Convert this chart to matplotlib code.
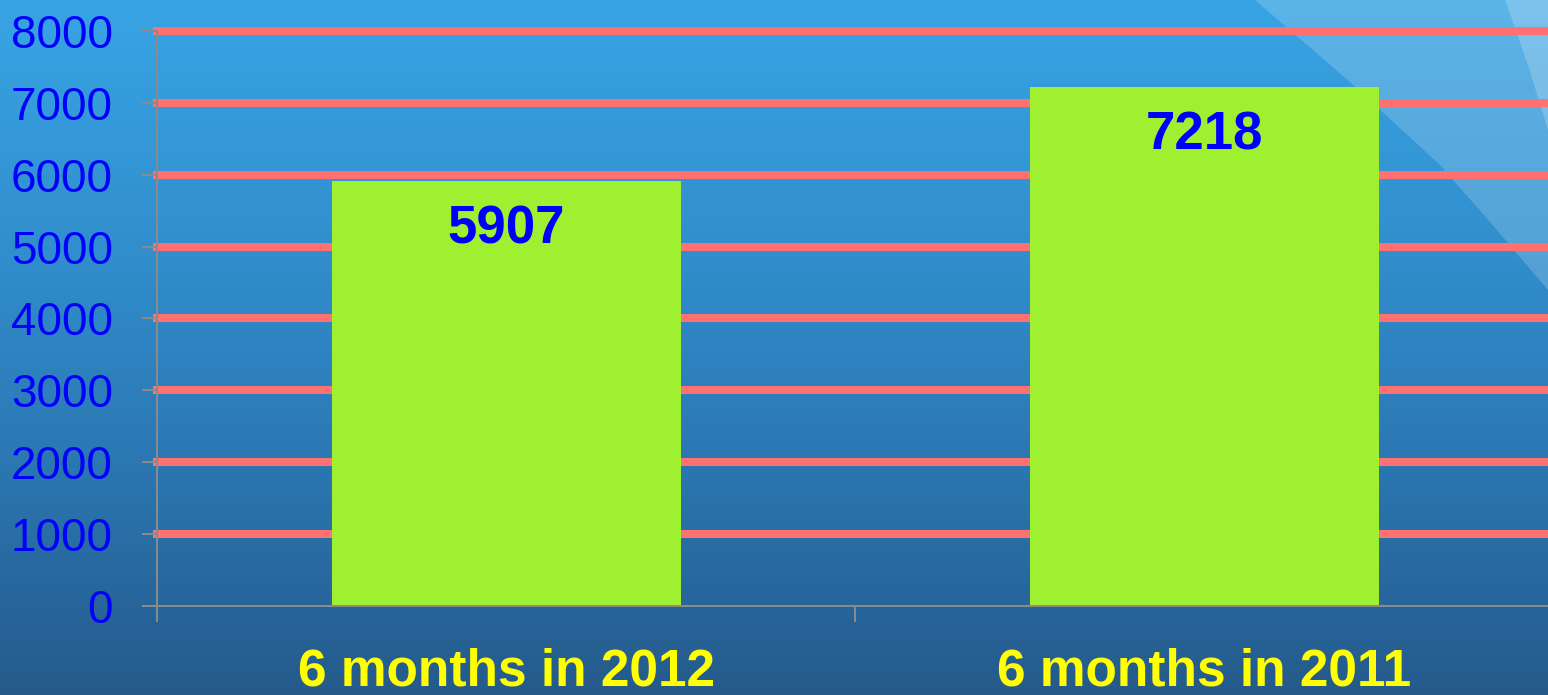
import matplotlib.pyplot as plt
import numpy as np
from matplotlib.colors import LinearSegmentedColormap
from matplotlib.patches import Polygon

categories = ["6 months in 2012", "6 months in 2011"]
values = [5907, 7218]
y_ticks = [0, 1000, 2000, 3000, 4000, 5000, 6000, 7000, 8000]

W, H = 1548, 695
PX = 72 / 100  # points per pixel at dpi 100


def main():
    fig = plt.figure(figsize=(W / 100, H / 100), dpi=100)

    # background gradient and the light swooshes at top right
    bg = fig.add_axes([0, 0, 1, 1], zorder=-1)
    grad = np.linspace(0, 1, 256)[:, None]
    cmap = LinearSegmentedColormap.from_list("bg", ["#38a4e4", "#3290cf", "#2b77b2", "#255a8b"])
    bg.imshow(grad, aspect="auto", cmap=cmap, extent=[0, W, H, 0])
    bg.add_patch(Polygon([(1255, 0), (W, 0), (W, 290), (1490, 222), (1440, 165), (1350, 82)],
                         closed=True, facecolor="white", alpha=0.18, lw=0))
    bg.add_patch(Polygon([(1505, 0), (W, 0), (W, 130), (1528, 65)],
                         closed=True, facecolor="white", alpha=0.2, lw=0))
    bg.set_xlim(0, W)
    bg.set_ylim(H, 0)
    bg.axis("off")

    ax = fig.add_axes([157 / W, 89 / H, 1396 / W, 575 / H])
    ax.patch.set_alpha(0)

    x = np.arange(len(categories))
    bars = ax.bar(x, values, width=0.5, color="#a0f032", zorder=3)

    for yv in y_ticks[1:]:
        ax.axhline(yv, color="#ff7070", lw=8 * PX, zorder=1, clip_on=False)

    for rect, v in zip(bars, values):
        ax.annotate(str(v), (rect.get_x() + rect.get_width() / 2, v),
                    xytext=(0, -48 * PX), textcoords="offset points",
                    ha="center", va="center", color="#0000ff",
                    fontsize=38, fontweight="bold", family="Liberation Sans", zorder=4)

    ax.set_xlim(-0.5, 1.5)
    ax.set_ylim(0, 8000)
    ax.set_yticks(y_ticks)
    ax.set_xticks([-0.5, 0.5, 1.5])
    ax.set_xticklabels([])
    ax.set_xticks(x, minor=True)
    ax.set_xticklabels(categories, minor=True)

    for lab in ax.get_yticklabels():
        lab.set_family("Liberation Sans")
    for lab in ax.get_xticklabels(minor=True):
        lab.set_family("Liberation Sans")
        lab.set_fontweight("bold")

    ax.tick_params(axis="y", length=15 * PX, width=2 * PX, color="#8a8a8a",
                   labelcolor="#0000ff", labelsize=33, pad=29 * PX)
    ax.tick_params(axis="x", which="major", length=16 * PX, width=2 * PX, color="#8a8a8a")
    ax.tick_params(axis="x", which="minor", length=0, labelcolor="#ffff00",
                   labelsize=37, pad=42 * PX)

    for side in ["top", "right"]:
        ax.spines[side].set_visible(False)
    for side in ["left", "bottom"]:
        ax.spines[side].set_color("#8a8a8a")
        ax.spines[side].set_linewidth(2 * PX)
        ax.spines[side].set_zorder(5)

    fig.savefig("out.png", dpi=100)
    plt.close(fig)


if __name__ == "__main__":
    main()
